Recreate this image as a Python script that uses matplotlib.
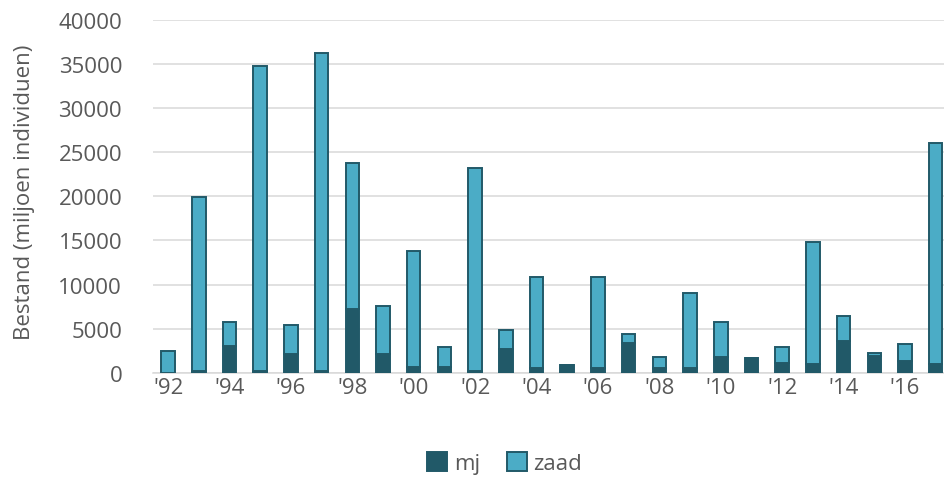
import matplotlib
matplotlib.use("Agg")
import matplotlib.pyplot as plt
import numpy as np

years = list(range(1992, 2018))
# mj (dark) and zaad (light) stock, miljoen individuen
mj = [50, 200, 3100, 200, 2100, 200, 7300, 2100, 700, 700, 200, 2700, 600,
      900, 600, 3400, 600, 600, 1800, 1650, 1100, 1000, 3600, 1900, 1400, 1000]
zaad = [2450, 19700, 2700, 34600, 3300, 36000, 16500, 5500, 13100, 2200, 23000,
        2200, 10300, 0, 10300, 1000, 1200, 8400, 4000, 0, 1800, 13800, 2900,
        400, 1900, 25000]
tick_labels = ["'%02d" % (y % 100) if y % 2 == 0 else "" for y in years]

dark = "#215968"
light = "#4BACC6"
grey = "#595959"
fs = 16

plt.rcParams['font.family'] = ['Open Sans', 'DejaVu Sans']

fig = plt.figure(figsize=(9.45, 4.81), dpi=100)
ax = fig.add_axes([0.1616, 0.2225, 0.8448, 0.7345])

x = np.arange(len(years))
w = 0.44
ax.bar(x, mj, width=w, color=dark, edgecolor=dark, linewidth=1.4, label="mj", zorder=3)
ax.bar(x, zaad, width=w, bottom=mj, color=light, edgecolor=dark, linewidth=1.4,
       label="zaad", zorder=3)

ax.set_xlim(-0.5, len(years) - 0.5)
ax.set_ylim(0, 40000)
ax.set_yticks(range(0, 40001, 5000))
ax.set_xticks(x)
ax.set_xticklabels(tick_labels)
ax.tick_params(axis="both", length=0, labelsize=fs, colors=grey)
ax.tick_params(axis="y", pad=22)
ax.tick_params(axis="x", pad=3)

ax.grid(axis="y", color="#D9D9D9", linewidth=1.1, zorder=0)
for side in ["top", "right", "left"]:
    ax.spines[side].set_visible(False)
ax.spines["bottom"].set_color("#D9D9D9")
ax.spines["bottom"].set_linewidth(1.1)

ax.set_ylabel("Bestand (miljoen individuen)", fontsize=fs, color=grey)
ax.yaxis.set_label_coords(-0.148, 0.515)

fig.legend(loc="center", bbox_to_anchor=(0.534, 0.035), ncol=2, frameon=False,
           fontsize=fs, labelcolor=grey, handlelength=0.9, handleheight=0.9,
           handletextpad=0.3, columnspacing=1.2)

fig.savefig("out.png", dpi=100)
